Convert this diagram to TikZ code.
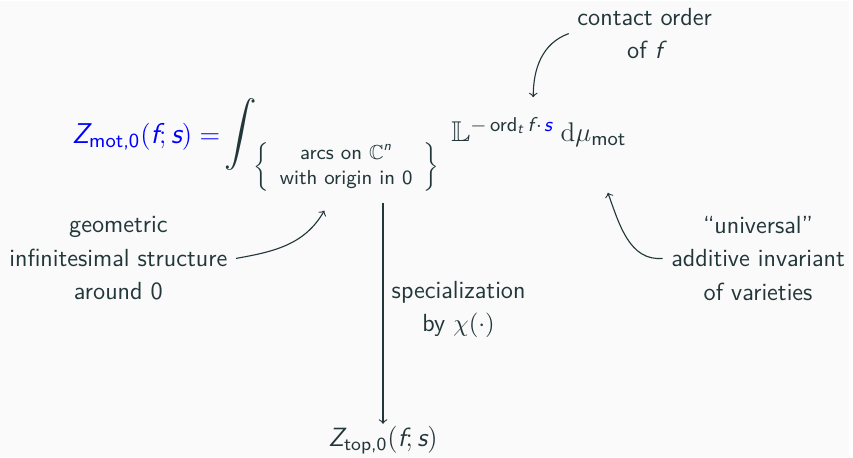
\documentclass[tikz,border=0pt,11pt]{standalone}
\usepackage{amsmath,amssymb}
\usetikzlibrary{arrows}
\renewcommand\familydefault{\sfdefault}
\definecolor{slate}{HTML}{23373B}
\definecolor{paper}{HTML}{FAFAFA}
% sans italic letters inside formulas
\newcommand\sv[1]{\text{\itshape #1}}
\tikzset{
  formula/.style = {inner sep=1pt, font=\fontsize{12.7}{15}\selectfont, text=slate},
  remark/.style  = {align=center, text=slate, font=\fontsize{11}{14.8}\selectfont},
  hint/.style    = {->, draw=slate, line width=0.5pt}
}

\begin{document}
\begin{tikzpicture}[x=0.442pt, y=-0.442pt, >=to]
  \fill[paper] (0,0) rectangle (853,459);

  % the motivic zeta function, piece by piece
  \node[formula, text=blue, anchor=base east] (lhs) at (224,143)
    {$\sv{Z}_{\text{mot,0}}(\sv{f};\sv{s}) =$};
  \node[formula, font=\Large] (intsign) at (242,134) {$\displaystyle\int$};
  \node[formula, font=\footnotesize] (domain) at (348,167)
    {$\left\{\begin{array}{c}\text{arcs on }\mathbb{C}^{\sv{n}}\\
      \text{with origin in 0}\end{array}\right\}$};
  \node[formula, anchor=base west] (integrand) at (451,141)
    {$\mathbb{L}^{-\mathop{\text{ord}}\nolimits_{\sv{t}}\sv{f}\mkern2mu\cdot\mkern2mu{\color{blue}\sv{s}}}
      \;\mathrm{d}\mu_{\text{mot}}$};
  \node[formula, font=\fontsize{11.7}{14}\selectfont] (ztop) at (385,442)
    {$\sv{Z}_{\text{top,0}}(\sv{f};\sv{s})$};

  % comments around it
  \node[remark] (contact) at (648,33) {contact order\\of $\sv{f}$};
  \node[remark] (geom) at (119,259) {geometric\\infinitesimal structure\\around 0};
  \node[remark] (univ) at (762,259) {“universal”\\additive invariant\\of varieties};
  \node[remark] (spec) at (461,310) {specialization\\by $\chi(\cdot)$};

  % arrows
  \coordinate (ordpt) at (536,97);
  \coordinate (arcpt) at (326,211);
  \coordinate (motpt) at (611,193);
  \coordinate (split) at ([yshift=-4pt]domain.south);
  \draw[hint] (contact.west) to[out=200,in=90] (ordpt);
  \draw[hint] (geom.east) to[out=10,in=240] (arcpt);
  \draw[hint] (univ.west) to[out=185,in=-70] (motpt);
  \draw[hint] (split -| ztop.north) -- (ztop.north);
\end{tikzpicture}
\end{document}
